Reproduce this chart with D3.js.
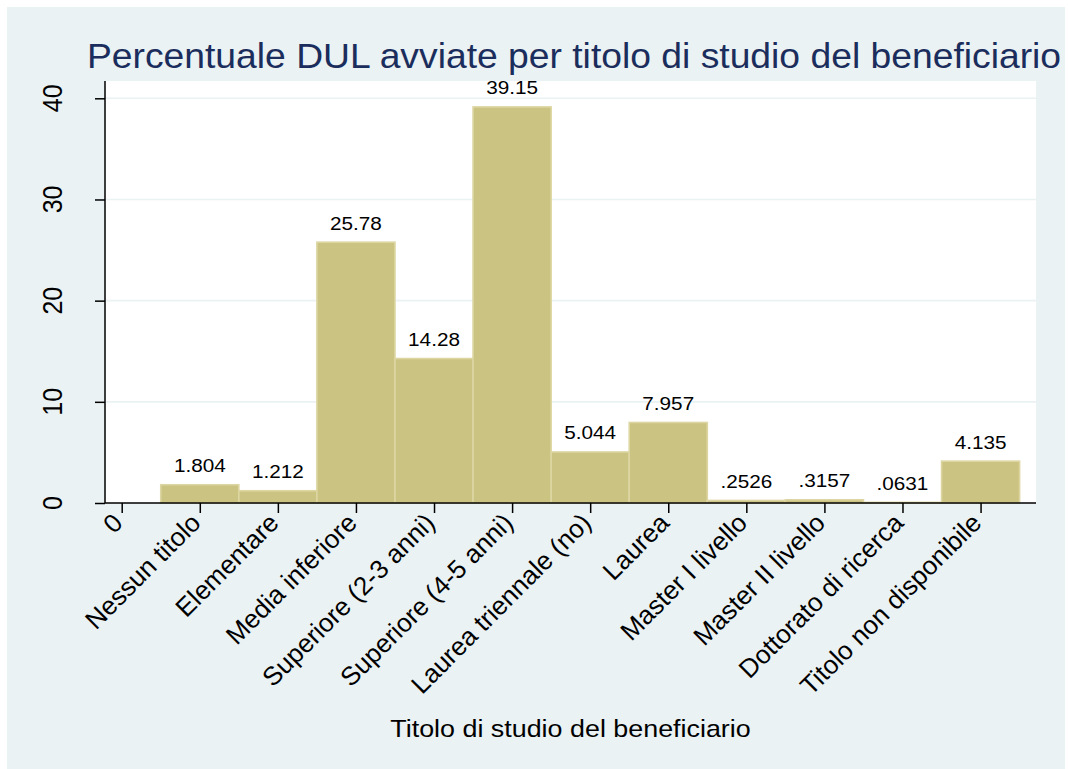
<!DOCTYPE html>
<html>
<head>
<meta charset="utf-8">
<script src="https://cdn.jsdelivr.net/npm/d3@7"></script>
<style>
  html, body { margin: 0; padding: 0; background: #ffffff; }
  svg { display: block; }
  text { font-family: "Liberation Sans", Arial, sans-serif; }
</style>
</head>
<body>
<svg id="chart" width="1068" height="769"></svg>
<script>
// Education levels of the beneficiaries (position 0 is an empty slot on the axis)
const categories = [
  "0", "Nessun titolo", "Elementare", "Media inferiore",
  "Superiore (2-3 anni)", "Superiore (4-5 anni)", "Laurea triennale (no)",
  "Laurea", "Master I livello", "Master II livello",
  "Dottorato di ricerca", "Titolo non disponibile"
];
// Percentage of DULs started, per category
const percent = [null, 1.804, 1.212, 25.78, 14.28, 39.15, 5.044, 7.957, 0.2526, 0.3157, 0.0631, 4.135];
const yTicks = [0, 10, 20, 30, 40];

const titleText = "Percentuale DUL avviate per titolo di studio del beneficiario";
const xTitleText = "Titolo di studio del beneficiario";

const svg = d3.select("#chart");
const sx = 1.12; // horizontal stretch of the straight text

const plot = { left: 105, right: 1036, top: 81, bottom: 503 };

// background panels
svg.append("rect").attr("x", 7).attr("y", 7).attr("width", 1058).attr("height", 762)
  .attr("fill", "#eaf2f3");
svg.append("rect").attr("x", plot.left).attr("y", plot.top)
  .attr("width", plot.right - plot.left).attr("height", plot.bottom - plot.top)
  .attr("fill", "#ffffff");

const x = d3.scaleLinear().domain([-0.214, 11.71]).range([plot.left, plot.right]);
const y = d3.scaleLinear().domain([0, 40]).range([plot.bottom, 98.3]);

// gridlines
svg.append("g").selectAll("line").data(yTicks.filter(d => d > 0)).join("line")
  .attr("x1", plot.left).attr("x2", plot.right)
  .attr("y1", d => y(d)).attr("y2", d => y(d))
  .attr("stroke", "#eaf2f3").attr("stroke-width", 1.6);

// bars
const bars = percent.map((v, i) => ({ i, v })).filter(d => d.v != null);
svg.append("g").selectAll("rect").data(bars).join("rect")
  .attr("x", d => x(d.i - 0.5))
  .attr("width", d => x(d.i + 0.5) - x(d.i - 0.5))
  .attr("y", d => y(d.v))
  .attr("height", d => y(0) - y(d.v))
  .attr("fill", "#cbc381")
  .attr("stroke", "#ddd6a3")
  .attr("stroke-width", 1.6);

// value labels above bars
const fmt = v => d3.format(".4~r")(v).replace(/^0\./, ".");
svg.append("g").selectAll("text").data(bars).join("text")
  .attr("transform", d => `translate(${x(d.i)},${y(d.v) - 12.5}) scale(${sx},1)`)
  .attr("text-anchor", "middle")
  .attr("font-size", 18.5)
  .attr("fill", "#000")
  .text(d => fmt(d.v));

// y axis
const yAxis = d3.axisLeft(y).tickValues(yTicks).tickSize(10).tickFormat("");
const gy = svg.append("g").attr("transform", `translate(${plot.left},0)`).call(yAxis);
gy.select(".domain").attr("d", `M0,${plot.top}V${plot.bottom}`).attr("stroke", "#000").attr("stroke-width", 1.5);
gy.selectAll(".tick line").attr("stroke", "#000").attr("stroke-width", 1.5);
svg.append("g").selectAll("text").data(yTicks).join("text")
  .attr("transform", d => `translate(62,${y(d)}) scale(${sx},1) rotate(-90)`)
  .attr("text-anchor", "middle")
  .attr("font-size", 25)
  .attr("fill", "#000")
  .text(d => d);

// x axis
const xAxis = d3.axisBottom(x).tickValues(d3.range(categories.length)).tickSize(10).tickFormat("");
const gx = svg.append("g").attr("transform", `translate(0,${plot.bottom})`).call(xAxis);
gx.select(".domain").attr("d", `M${plot.left},0H${plot.right}`).attr("stroke", "#000").attr("stroke-width", 1.5);
gx.selectAll(".tick line").attr("stroke", "#000").attr("stroke-width", 1.5);
svg.append("g").selectAll("text").data(categories).join("text")
  .attr("transform", (d, i) => `translate(${x(i) - 4},${plot.bottom + 15}) rotate(-45)`)
  .attr("text-anchor", "end")
  .attr("dy", "0.35em")
  .attr("font-size", 26)
  .attr("fill", "#000")
  .text(d => d);

// axis title
svg.append("text")
  .attr("transform", `translate(${(plot.left + plot.right) / 2},737) scale(${sx},1)`)
  .attr("text-anchor", "middle")
  .attr("font-size", 24)
  .attr("fill", "#000")
  .text(xTitleText);

// chart title
svg.append("text")
  .attr("transform", `translate(574,68) scale(1.065,1)`)
  .attr("text-anchor", "middle")
  .attr("font-size", 35)
  .attr("fill", "#1b2d5c")
  .text(titleText);
</script>
</body>
</html>
